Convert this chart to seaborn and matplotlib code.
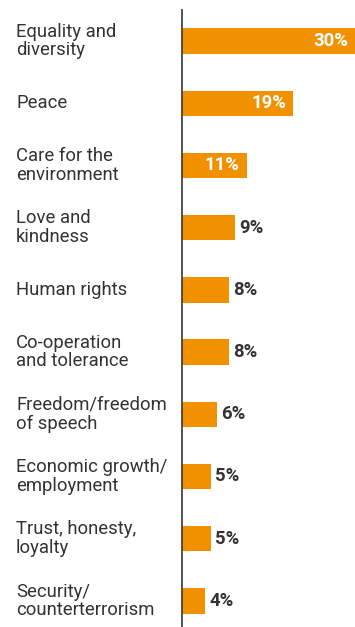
import matplotlib
matplotlib.use("Agg")
import matplotlib.pyplot as plt
import matplotlib.transforms as mtransforms
import seaborn as sns
import pandas as pd

categories = [
    "Equality and\ndiversity",
    "Peace",
    "Care for the\nenvironment",
    "Love and\nkindness",
    "Human rights",
    "Co-operation\nand tolerance",
    "Freedom/freedom\nof speech",
    "Economic growth/\nemployment",
    "Trust, honesty,\nloyalty",
    "Security/\ncounterterrorism",
]
values = [30, 19, 11, 9, 8, 8, 6, 5, 5, 4]
value_labels = ["30%", "19%", "11%", "9%", "8%", "8%", "6%", "5%", "5%", "4%"]

ORANGE = "#F29100"
TEXT = "#333333"

sns.set_theme(style="white")
plt.rcParams["font.family"] = ["Roboto", "DejaVu Sans"]

df = pd.DataFrame({"category": categories, "value": values})

fig = plt.figure(figsize=(3.55, 6.27), dpi=100)
ax = fig.add_axes([182 / 355, 0, 173 / 355, 617 / 627])
sns.barplot(data=df, x="value", y="category", orient="h", color=ORANGE,
            width=0.41, saturation=1, linewidth=0, ax=ax)

ax.set_xlim(0, 29.5)
ax.set_ylim(9.42, -0.5)
ax.set_xlabel("")
ax.set_ylabel("")
ax.set_xticks([])
ax.set_yticks([])
for side in ["top", "right", "bottom"]:
    ax.spines[side].set_visible(False)
ax.spines["left"].set_color("#444444")
ax.spines["left"].set_linewidth(1.3)
ax.spines["left"].set_zorder(5)

# category labels on the left, anchored in figure coords
trans = mtransforms.blended_transform_factory(fig.transFigure, ax.transData)
for i, cat in enumerate(categories):
    ax.text(16 / 355, i, cat, transform=trans, ha="left", va="center",
            fontsize=13.3, color=TEXT, linespacing=1.05)

# value labels: inside for big bars, outside for small ones
for i, (v, lab) in enumerate(zip(values, value_labels)):
    if v >= 10:
        ax.annotate(lab, (min(v, 29.5), i), xytext=(-5, 0),
                    textcoords="offset points", ha="right", va="center",
                    fontsize=13.3, fontweight="bold", color="white",
                    annotation_clip=False)
    else:
        ax.annotate(lab, (v, i), xytext=(3, 0), textcoords="offset points",
                    ha="left", va="center", fontsize=13.3, fontweight="bold",
                    color=TEXT, annotation_clip=False)

fig.savefig("out.png", dpi=100)
